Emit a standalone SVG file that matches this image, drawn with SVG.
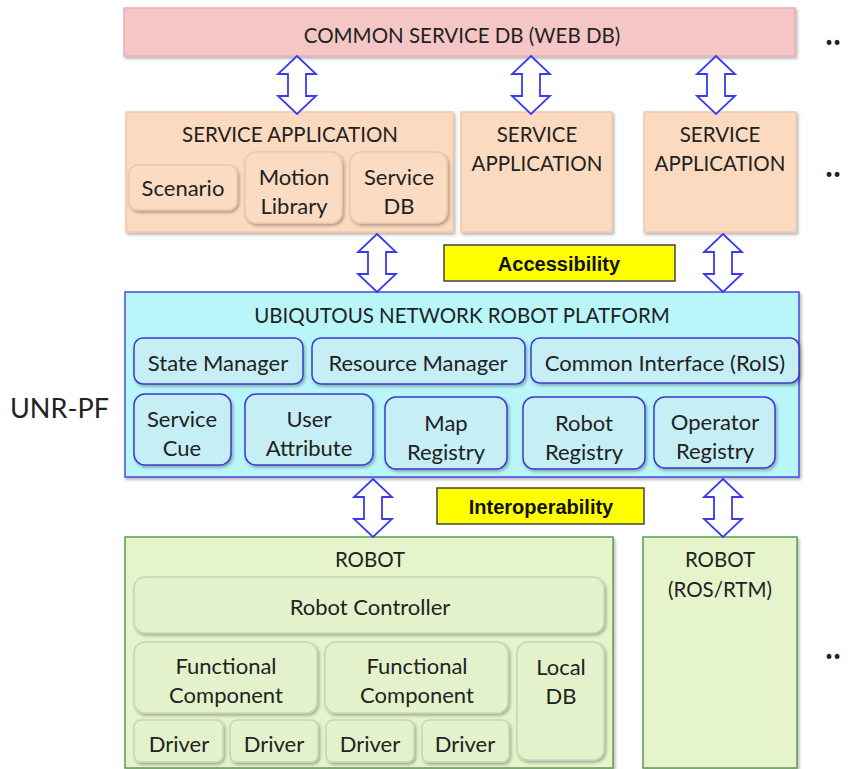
<svg xmlns="http://www.w3.org/2000/svg" width="852" height="769" viewBox="0 0 852 769">
<style>
text{font-family:Lato,"Open Sans","Liberation Sans",sans-serif;fill:#222;text-anchor:middle}
.t20{font-size:20.5px}
.t19{font-size:22px}
.tt{font-size:20.5px}
.t26{font-size:27px;text-anchor:start}
.b{font-family:"Liberation Sans",Arial,sans-serif;font-weight:bold;font-size:20px;fill:#111}
.pink{fill:#f5c6c6;stroke:#e8b0b0;stroke-width:1.5}
.peach{fill:#fbdac0;stroke:#f0c8a8;stroke-width:1.5}
.peachIn{fill:#fbdcc2;stroke:#ecc8aa;stroke-width:1.5}
.cyan{fill:#b8f6fa;stroke:#4a4ae6;stroke-width:1.5}
.cyanIn{fill:#c6eef5;stroke:#3a3ad0;stroke-width:1.5}
.green{fill:#e6f4cc;stroke:#5f9c52;stroke-width:1.5}
.greenIn{fill:#e4f2cb;stroke:#c8d4b8;stroke-width:1.5}
.yel{fill:#ffff00;stroke:#444;stroke-width:1.5}
.arr{fill:#fff;stroke:#3a3af0;stroke-width:1.8;stroke-linejoin:miter}
.dots{font-size:30px;text-anchor:start;font-weight:bold}
</style>
<defs>
<filter id="sh" x="-10%" y="-10%" width="125%" height="130%">
<feDropShadow dx="1.5" dy="2" stdDeviation="1.5" flood-color="#000" flood-opacity="0.3"/>
</filter>
<path id="da" d="M0,0 L19,18 L9,18 L9,40 L19,40 L0,58 L-19,40 L-9,40 L-9,18 L-19,18 Z"/>
</defs>

<g id="common-db">
<rect class="pink" x="124" y="8" width="671" height="48" filter="url(#sh)"/>
<text class="t20" x="462" y="43">COMMON SERVICE DB (WEB DB)</text>
</g>
<text class="dots" x="825" y="44">‥</text>

<g id="service-app-1">
<rect class="peach" x="126" y="112" width="327" height="120" filter="url(#sh)"/>
<text class="t20" x="290" y="142">SERVICE APPLICATION</text>
</g>
<g id="scenario">
<rect class="peachIn" x="129" y="165" width="108" height="45" rx="9" filter="url(#sh)"/>
<text class="t19" x="183" y="196">Scenario</text>
</g>
<g id="motion-library">
<rect class="peachIn" x="245" y="152" width="97" height="71" rx="11" filter="url(#sh)"/>
<text class="t19" x="294" y="185">Motion</text>
<text class="t19" x="294" y="214">Library</text>
</g>
<g id="service-db">
<rect class="peachIn" x="350" y="152" width="97" height="71" rx="11" filter="url(#sh)"/>
<text class="t19" x="399" y="185">Service</text>
<text class="t19" x="399" y="214">DB</text>
</g>
<g id="service-app-2">
<rect class="peach" x="461" y="112" width="151" height="120" filter="url(#sh)"/>
<text class="t20" x="537" y="142">SERVICE</text>
<text class="t20" x="537" y="171">APPLICATION</text>
</g>
<g id="service-app-3">
<rect class="peach" x="644" y="112" width="152" height="120" filter="url(#sh)"/>
<text class="t20" x="720" y="142">SERVICE</text>
<text class="t20" x="720" y="171">APPLICATION</text>
</g>
<text class="dots" x="825" y="176">‥</text>

<g id="accessibility">
<rect class="yel" x="444" y="245" width="231" height="36"/>
<text class="b" x="559" y="271">Accessibility</text>
</g>

<text class="t26" x="10" y="418">UNR-PF</text>
<g id="unr-pf">
<rect class="cyan" x="125" y="292" width="674" height="185" filter="url(#sh)"/>
<text class="t20" x="462" y="323">UBIQUTOUS NETWORK ROBOT PLATFORM</text>
</g>
<g id="state-manager">
<rect class="cyanIn" x="134" y="338" width="169" height="46" rx="9" filter="url(#sh)"/>
<text class="t19" x="218" y="371">State Manager</text>
</g>
<g id="resource-manager">
<rect class="cyanIn" x="312" y="338" width="213" height="46" rx="9" filter="url(#sh)"/>
<text class="t19" x="418" y="371">Resource Manager</text>
</g>
<g id="common-interface">
<rect class="cyanIn" x="531" y="338" width="268" height="45" rx="9" filter="url(#sh)"/>
<text class="t19" x="665" y="371">Common Interface (RoIS)</text>
</g>
<g id="service-cue">
<rect class="cyanIn" x="134" y="394" width="97" height="71" rx="11" filter="url(#sh)"/>
<text class="t19" x="182" y="427">Service</text>
<text class="t19" x="182" y="456">Cue</text>
</g>
<g id="user-attribute">
<rect class="cyanIn" x="245" y="394" width="128" height="71" rx="11" filter="url(#sh)"/>
<text class="t19" x="309" y="427">User</text>
<text class="t19" x="309" y="456">Attribute</text>
</g>
<g id="map-registry">
<rect class="cyanIn" x="385" y="397" width="122" height="72" rx="11" filter="url(#sh)"/>
<text class="t19" x="446" y="431">Map</text>
<text class="t19" x="446" y="460">Registry</text>
</g>
<g id="robot-registry">
<rect class="cyanIn" x="523" y="397" width="122" height="72" rx="11" filter="url(#sh)"/>
<text class="t19" x="584" y="431">Robot</text>
<text class="t19" x="584" y="460">Registry</text>
</g>
<g id="operator-registry">
<rect class="cyanIn" x="654" y="397" width="121" height="71" rx="11" filter="url(#sh)"/>
<text class="t19" x="715" y="430">Operator</text>
<text class="t19" x="715" y="459">Registry</text>
</g>

<g id="interoperability">
<rect class="yel" x="437" y="488" width="207" height="36"/>
<text class="b" x="541" y="514">Interoperability</text>
</g>

<g id="robot">
<rect class="green" x="125" y="537" width="488" height="231" filter="url(#sh)"/>
<text class="tt" x="370" y="567">ROBOT</text>
</g>
<g id="robot-controller">
<rect class="greenIn" x="134" y="577" width="470" height="56" rx="11" filter="url(#sh)"/>
<text class="t19" x="370" y="615">Robot Controller</text>
</g>
<g id="functional-component-1">
<rect class="greenIn" x="134" y="642" width="183" height="71" rx="11" filter="url(#sh)"/>
<text class="t19" x="226" y="674">Functional</text>
<text class="t19" x="226" y="703">Component</text>
</g>
<g id="functional-component-2">
<rect class="greenIn" x="325" y="642" width="183" height="71" rx="11" filter="url(#sh)"/>
<text class="t19" x="417" y="674">Functional</text>
<text class="t19" x="417" y="703">Component</text>
</g>
<g id="local-db">
<rect class="greenIn" x="517" y="642" width="87" height="118" rx="11" filter="url(#sh)"/>
<text class="t19" x="561" y="675">Local</text>
<text class="t19" x="561" y="704">DB</text>
</g>
<g id="driver-1">
<rect class="greenIn" x="134" y="720" width="89" height="42" rx="7" filter="url(#sh)"/>
<text class="t19" x="179" y="752">Driver</text>
</g>
<g id="driver-2">
<rect class="greenIn" x="230" y="720" width="88" height="42" rx="7" filter="url(#sh)"/>
<text class="t19" x="274" y="752">Driver</text>
</g>
<g id="driver-3">
<rect class="greenIn" x="326" y="720" width="88" height="42" rx="7" filter="url(#sh)"/>
<text class="t19" x="370" y="752">Driver</text>
</g>
<g id="driver-4">
<rect class="greenIn" x="422" y="720" width="87" height="42" rx="7" filter="url(#sh)"/>
<text class="t19" x="465" y="752">Driver</text>
</g>
<g id="robot-ros">
<rect class="green" x="643" y="537" width="154" height="231" filter="url(#sh)"/>
<text class="tt" x="720" y="567">ROBOT</text>
<text class="tt" x="720" y="597">(ROS/RTM)</text>
</g>
<text class="dots" x="825" y="658">‥</text>

<g id="connectors">
<use href="#da" class="arr" x="297" y="56"/>
<use href="#da" class="arr" x="531" y="56"/>
<use href="#da" class="arr" x="716" y="56"/>
<use href="#da" class="arr" x="377" y="234"/>
<use href="#da" class="arr" x="723" y="234"/>
<use href="#da" class="arr" x="373" y="479"/>
<use href="#da" class="arr" x="723" y="479"/>
</g>
</svg>
